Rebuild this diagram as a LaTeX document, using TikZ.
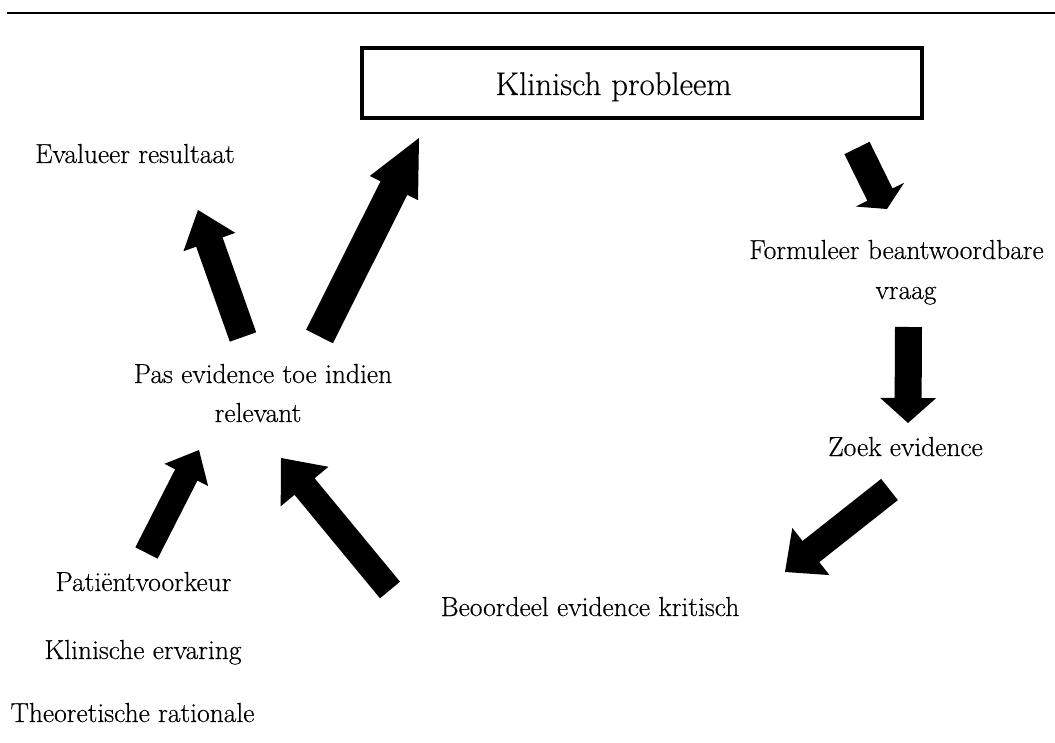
\documentclass[tikz,border=0pt]{standalone}
\usepackage{fontspec}
\newfontfamily\lblfont{Latin Modern Roman}[FakeBold=0.4]
\usetikzlibrary{calc}
\newcommand\blockarrow[5]{% #1 tail, #2 tip, #3 shaft half width, #4 head half width, #5 head length
  \fill let \p1=(#1), \p2=(#2),
    \n1={atan2(\y2-\y1,\x2-\x1)}, \n2={veclen(\x2-\x1,\y2-\y1)} in
    [shift={(\p1)}, rotate=\n1]
    (0pt,-#3pt) -- ({\n2-#5pt},-#3pt) -- ({\n2-#5pt},-#4pt) -- (\n2,0pt)
    -- ({\n2-#5pt},#4pt) -- ({\n2-#5pt},#3pt) -- (0pt,#3pt) -- cycle;}
\tikzset{
  lbl/.style={anchor=base, inner sep=0pt, font=\lblfont\fontsize{27.5}{40}\selectfont},
  titlelbl/.style={anchor=base, inner sep=0pt, font=\lblfont\fontsize{32.8}{38}\selectfont},
  probbox/.style={draw, line width=4.5pt, minimum width=560pt, minimum height=70pt, inner sep=0pt}
}
\begin{document}
\begin{tikzpicture}[x=1pt,y=-1pt]
\useasboundingbox (0,0) rectangle (1055,743);
% top rule
\coordinate (ruleL) at (7,13);
\coordinate (ruleR) at (1055,13);
\draw[line width=1.5pt] (ruleL) -- (ruleR);
% box
\node[probbox] (box) at (642,83) {};
\node[titlelbl] (kp) at (613.5,95) {Klinisch probleem};
% labels
\node[lbl] (eval) at (135,163) {Evalueer resultaat};
\node[lbl] (form1) at (896.5,259) {Formuleer beantwoordbare};
\node[lbl] (form2) at (906,299) {vraag};
\node[lbl] (zoek) at (905.5,456) {Zoek evidence};
\node[lbl] (beoor) at (590,616) {Beoordeel evidence kritisch};
\node[lbl] (pas1) at (263,383) {Pas evidence toe indien};
\node[lbl] (pas2) at (258,422) {relevant};
\node[lbl] (pat) at (143.5,591) {Patiëntvoorkeur};
\node[lbl] (klin) at (143,659) {Klinische ervaring};
\node[lbl] (theo) at (132.5,722) {Theoretische rationale};
% arrow ends
\coordinate (a1s) at (857,148);   \coordinate (a1e) at (887,209);
\coordinate (a2s) at (908.5,327); \coordinate (a2e) at (908,423);
\coordinate (a3s) at (889.5,489.5); \coordinate (a3e) at (785,572);
\coordinate (a4s) at (390,590);   \coordinate (a4e) at (281,458);
\coordinate (a5s) at (146.5,553); \coordinate (a5e) at (199,450);
\coordinate (a6s) at (243,337);   \coordinate (a6e) at (198,210);
\coordinate (a7s) at (319.5,336.5); \coordinate (a7e) at (419,138);
\blockarrow{a1s}{a1e}{14}{27}{16}
\blockarrow{a2s}{a2e}{13.5}{28}{25}
\blockarrow{a3s}{a3e}{13.5}{30}{33}
\blockarrow{a4s}{a4e}{13}{31}{37}
\blockarrow{a5s}{a5e}{12.5}{24.5}{28}
\blockarrow{a6s}{a6e}{14}{27.5}{34}
\blockarrow{a7s}{a7e}{15}{27}{56}
\end{tikzpicture}
\end{document}
